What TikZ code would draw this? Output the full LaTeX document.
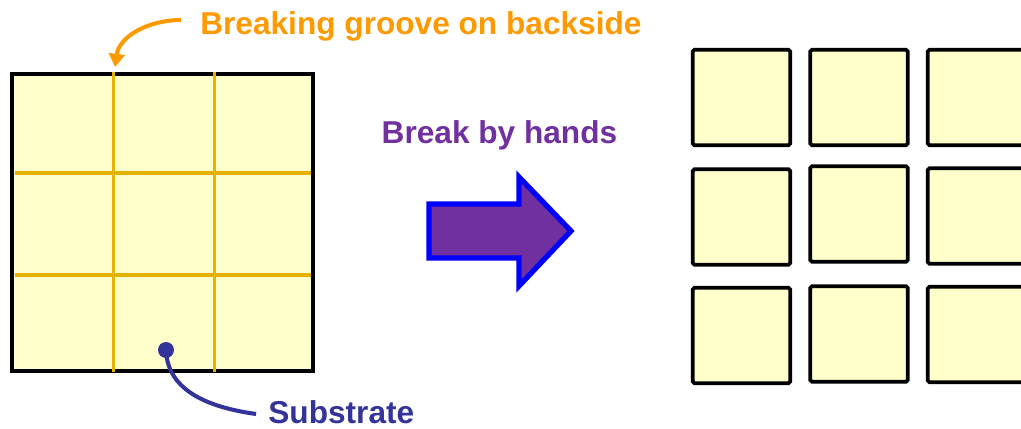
\documentclass[tikz,border=0pt]{standalone}
\usepackage{fontspec}
\setmainfont{Liberation Sans}
\usepackage{tikz}
\usetikzlibrary{positioning,calc,arrows.meta}

\definecolor{piecefill}{RGB}{255,255,204}
\definecolor{groovecol}{RGB}{230,178,0}
\definecolor{labelorange}{RGB}{255,153,0}
\definecolor{labelblue}{RGB}{51,51,153}
\definecolor{breakpurple}{RGB}{112,48,160}

\begin{document}
\begin{tikzpicture}[x=0.02cm, y=-0.02cm, every node/.style={font=\bfseries\fontsize{18}{20}\selectfont}, piece/.style = {draw, fill=piecefill, line width=2.1pt, rounded corners=1pt, minimum width=1.95cm, minimum height=1.91cm, inner sep=0pt}, groove/.style={groovecol, line width=2.1pt}, pointer/.style={line width=2.3pt}]

\useasboundingbox (0,0) rectangle (1021,429);
\clip (0,0) rectangle (1021,429);

% substrate with grooves
\node[piece, rounded corners=0pt, minimum width=6.03cm, minimum height=5.94cm] (sub) at (162.5,222.4) {};
\draw[groove] (113.5,72) -- (113.5,372);
\draw[groove] (214.5,72) -- (214.5,372);
\draw[groove] (15,173) -- (311,173);
\draw[groove] (15,275) -- (311,275);

% labels
\node[labelorange, anchor=base west, inner sep=0pt] (groovelbl) at (200,35) {Breaking groove on backside};
\node[labelblue, anchor=base west, inner sep=0pt] (sublbl) at (268,423) {Substrate};
\node[breakpurple, anchor=base, inner sep=0pt] (breaklbl) at (499.5,144) {Break by hands};

\coordinate (groovestart) at (181,20);
\coordinate (groovetip) at (115,67);
\coordinate (subdot) at (166,350);
\coordinate (subend) at (256,414);

\draw[pointer, labelorange, -{Triangle[width=9pt,length=7.5pt]}] (groovestart) to[out=180, in=82] (groovetip);
\draw[pointer, labelblue] (subdot) to[out=-88, in=172] (subend);
\fill[labelblue] (subdot) circle (0.16cm);

% block arrow
\draw[draw=blue, fill=breakpurple, line width=3pt, miter limit=10]
 (429,204) -- (519,204) -- (519,177) -- (571,231) -- (519,286) -- (519,258) -- (429,258) -- cycle;

% broken pieces
\node[piece] (p11) at (741.5,97.5) {};
\node[piece] (p12) at (859,97.5) {};
\node[piece] (p13) at (976.5,97.5) {};
\node[piece] (p21) at (741.5,217) {};
\node[piece] (p22) at (859,214) {};
\node[piece] (p23) at (976.5,216) {};
\node[piece] (p31) at (741.5,335.5) {};
\node[piece] (p32) at (859,334) {};
\node[piece] (p33) at (976.5,334.5) {};
\end{tikzpicture}
\end{document}
